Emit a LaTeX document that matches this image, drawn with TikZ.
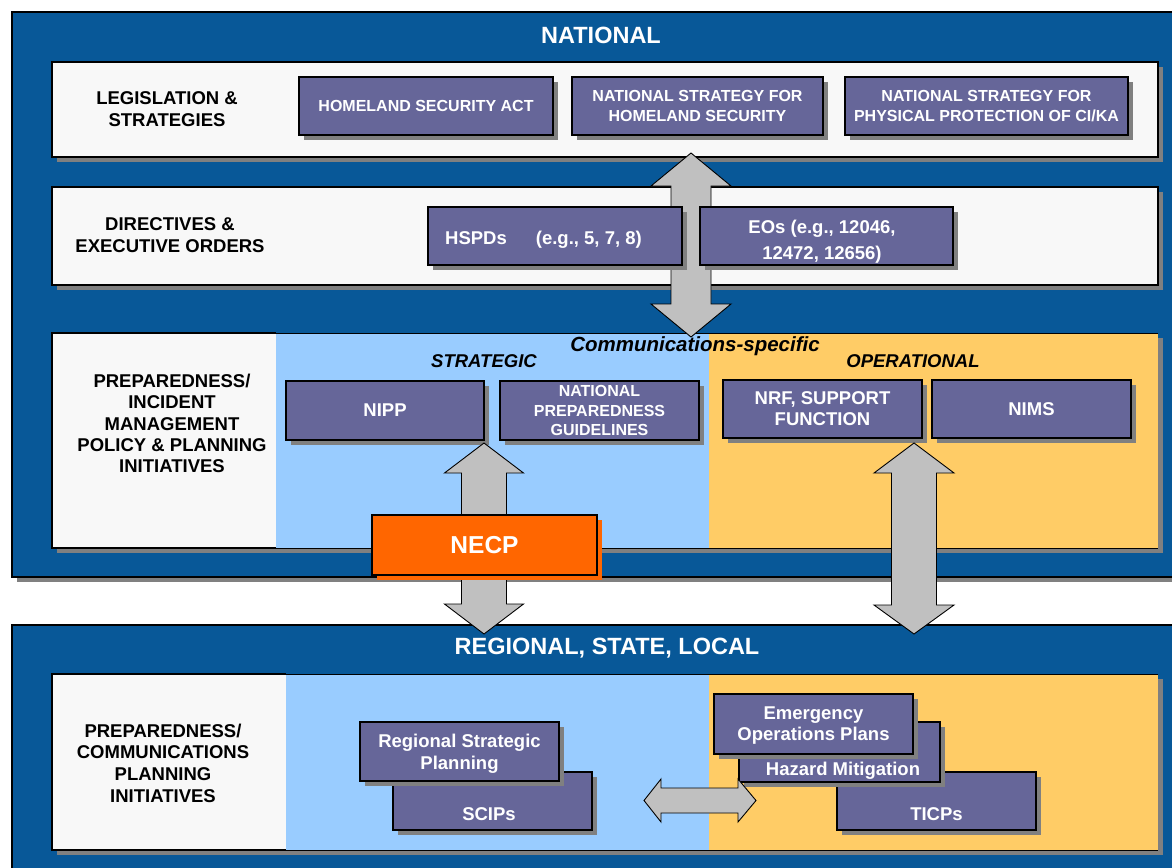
\documentclass[tikz,border=0pt]{standalone}
\usepackage{fontspec}
\setmainfont{Liberation Sans}
\definecolor{natblue}{RGB}{8,88,152}
\definecolor{boxpurple}{RGB}{102,102,153}
\definecolor{panelwhite}{RGB}{248,248,248}
\definecolor{stratblue}{RGB}{153,204,255}
\definecolor{operorange}{RGB}{255,204,102}
\definecolor{necporange}{RGB}{255,102,0}
\definecolor{arrowgray}{RGB}{192,192,192}
\definecolor{shadowgray}{RGB}{128,128,128}
\newcommand{\fntsmall}{\bfseries\fontsize{16}{19.5}\selectfont}
\newcommand{\fntmed}{\bfseries\fontsize{18.5}{21}\selectfont}
\newcommand{\fntbig}{\bfseries\fontsize{23.5}{26}\selectfont}
% vertical double block arrow: cx, top tip, top base, bottom base, bottom tip, shaft half, head half
\newcommand{\vblockarrow}[7]{%
  \draw[blockarrow] (#1,#2) -- (#1+#7,#3) -- (#1+#6,#3) -- (#1+#6,#4) -- (#1+#7,#4) -- (#1,#5)
    -- (#1-#7,#4) -- (#1-#6,#4) -- (#1-#6,#3) -- (#1-#7,#3) -- cycle;}
% horizontal double block arrow: cy, left tip, left base, right base, right tip, shaft half, head half
\newcommand{\hblockarrow}[7]{%
  \draw[blockarrow] (#2,#1) -- (#3,#1-#7) -- (#3,#1-#6) -- (#4,#1-#6) -- (#4,#1-#7) -- (#5,#1)
    -- (#4,#1+#7) -- (#4,#1+#6) -- (#3,#1+#6) -- (#3,#1+#7) -- cycle;}
\begin{document}
\begin{tikzpicture}[x=1pt,y=-1pt,
  every node/.style={inner sep=0pt, outer sep=0pt},
  sh/.style={preaction={fill=#1, transform canvas={shift={(5pt,-5pt)}}}},
  sh/.default=shadowgray,
  panel/.style={sh, fill=panelwhite, draw=black, line width=1.6pt},
  pbox/.style={sh, draw=black, line width=1.8pt, fill=boxpurple, text=white, align=center, text depth=0pt},
  psmall/.style={pbox, font=\fntsmall},
  pmed/.style={pbox, font=\fntmed},
  wtext/.style={text=white, font=\fntmed, align=center, text depth=0pt},
  lbl/.style={text=black, font=\bfseries\fontsize{18.5}{21.3}\selectfont, align=center, text depth=0pt},
  ttl/.style={text=white, font=\fntbig},
  itl/.style={text=black, font=\bfseries\itshape\fontsize{18.5}{21}\selectfont, text depth=0pt},
  blockarrow/.style={fill=arrowgray, draw=black, line width=0.9pt, line join=miter},
]
\clip (0,0) rectangle (1172,867);
\fill[white] (0,0) rectangle (1172,867);

% ---------- outer regions
\path[sh, fill=natblue, draw=black, line width=2pt] (12,12) rectangle (1200,577);
\path[fill=natblue, draw=black, line width=2pt] (12,625) rectangle (1200,900);
\node[ttl] (natl) at (601,35) {NATIONAL};
\node[ttl] (regl) at (607,648) {REGIONAL, STATE, LOCAL};

% ---------- national panels
\path[panel] (52,62) rectangle (1158,157);
\path[panel] (52,187) rectangle (1158,285);
\path[sh, fill=panelwhite] (52,333) rectangle (1158,548);
\fill[stratblue] (276,333) rectangle (709,548);
\fill[operorange] (709,333) rectangle (1158,548);
\draw[line width=0.8pt] (276,333) -- (1158,333);
\draw[line width=0.8pt] (276,548) -- (1158,548);
\draw[line width=1.6pt] (276,333) -- (52,333) -- (52,548) -- (276,548);

\node[lbl] (leglbl) at (167,109) {LEGISLATION \&\\STRATEGIES};
\node[lbl] (dirlbl) at (170,235) {DIRECTIVES \&\\EXECUTIVE ORDERS};
\node[lbl] (preplbl) at (172,423.5) {PREPAREDNESS/\\INCIDENT\\MANAGEMENT\\POLICY \& PLANNING\\INITIATIVES};

% big arrow through directives
\vblockarrow{691}{153}{186}{304}{337}{20}{40}

% ---------- purple boxes, national
\node[psmall, minimum width=254pt, minimum height=58pt] (hsa) at (426,106) {HOMELAND SECURITY ACT};
\node[psmall, minimum width=251pt, minimum height=58pt] (nshs) at (697.5,106) {NATIONAL STRATEGY FOR\\HOMELAND SECURITY};
\node[psmall, minimum width=283pt, minimum height=58pt] (nsppp) at (986.5,106) {NATIONAL STRATEGY FOR\\PHYSICAL PROTECTION OF CI/KA};

\node[pmed, minimum width=254pt, minimum height=58pt] (hspd) at (555,236) {};
\node[wtext] (hspdt) at (543.5,238) {HSPDs\hspace{29pt}(e.g., 5, 7, 8)};
\node[pmed, minimum width=253pt, minimum height=58pt] (eos) at (826.5,236) {};
\node[wtext, font=\bfseries\fontsize{18.5}{26}\selectfont] (eost) at (822,239.5) {EOs (e.g., 12046,\\12472, 12656)};

\node[itl] (strat) at (484,361) {STRATEGIC};
\node[itl] (oper) at (913,361) {OPERATIONAL};
\node[text=black, font=\bfseries\itshape\fontsize{20.5}{24}\selectfont, text depth=0pt] (comm) at (695,344) {Communications-specific};

\node[pmed, minimum width=198pt, minimum height=59pt] (nipp) at (385,410.5) {NIPP};
\node[psmall, minimum width=199pt, minimum height=59pt] (npg) at (599.5,410.5) {NATIONAL\\PREPAREDNESS\\GUIDELINES};
\node[pmed, minimum width=199pt, minimum height=58pt] (nrf) at (822.5,409) {NRF, SUPPORT\\FUNCTION};
\node[pmed, minimum width=199pt, minimum height=58pt] (nims) at (1031.5,409) {NIMS};

% ---------- arrows between levels
\vblockarrow{484}{443}{473}{604}{634}{22.5}{39.5}
\vblockarrow{914}{443}{473}{605}{634}{22.5}{40}

\node[sh=necporange, draw=black, line width=1.8pt, fill=necporange, text=white,
  font=\bfseries\fontsize{24.5}{28}\selectfont, text depth=0pt,
  minimum width=225pt, minimum height=60pt] (necp) at (484.5,545) {NECP};

% ---------- regional panel
\path[sh, fill=panelwhite] (52,674) rectangle (1158,850);
\fill[stratblue] (286,674) rectangle (709,850);
\fill[operorange] (709,674) rectangle (1158,850);
\draw[line width=0.8pt] (286,674) -- (1158,674);
\draw[line width=0.8pt] (286,850) -- (1158,850);
\draw[line width=1.6pt] (286,674) -- (52,674) -- (52,850) -- (286,850);

\node[lbl, font=\bfseries\fontsize{18.5}{21.7}\selectfont] (preplbl2) at (163,763) {PREPAREDNESS/\\COMMUNICATIONS\\PLANNING\\INITIATIVES};

\node[pmed, minimum width=199pt, minimum height=58pt] (scip) at (492.5,801) {};
\node[wtext] (scipt) at (489,814.5) {SCIPs};
\node[pmed, minimum width=199pt, minimum height=59pt, font=\bfseries\fontsize{18.5}{22}\selectfont] (rsp) at (459.5,751.5) {Regional Strategic\\Planning};

\node[pmed, minimum width=199pt, minimum height=58pt] (ticp) at (936.5,801) {};
\node[wtext] (ticpt) at (936.5,814.5) {TICPs};
\node[pmed, minimum width=201pt, minimum height=60pt] (haz) at (839.5,752) {};
\node[wtext] (hazt) at (843,769) {Hazard Mitigation};
\node[pmed, minimum width=199pt, minimum height=60pt] (eop) at (813.5,724) {Emergency\\Operations Plans};

\hblockarrow{800.5}{644}{661}{738}{756}{12.5}{21.5}
\end{tikzpicture}
\end{document}
